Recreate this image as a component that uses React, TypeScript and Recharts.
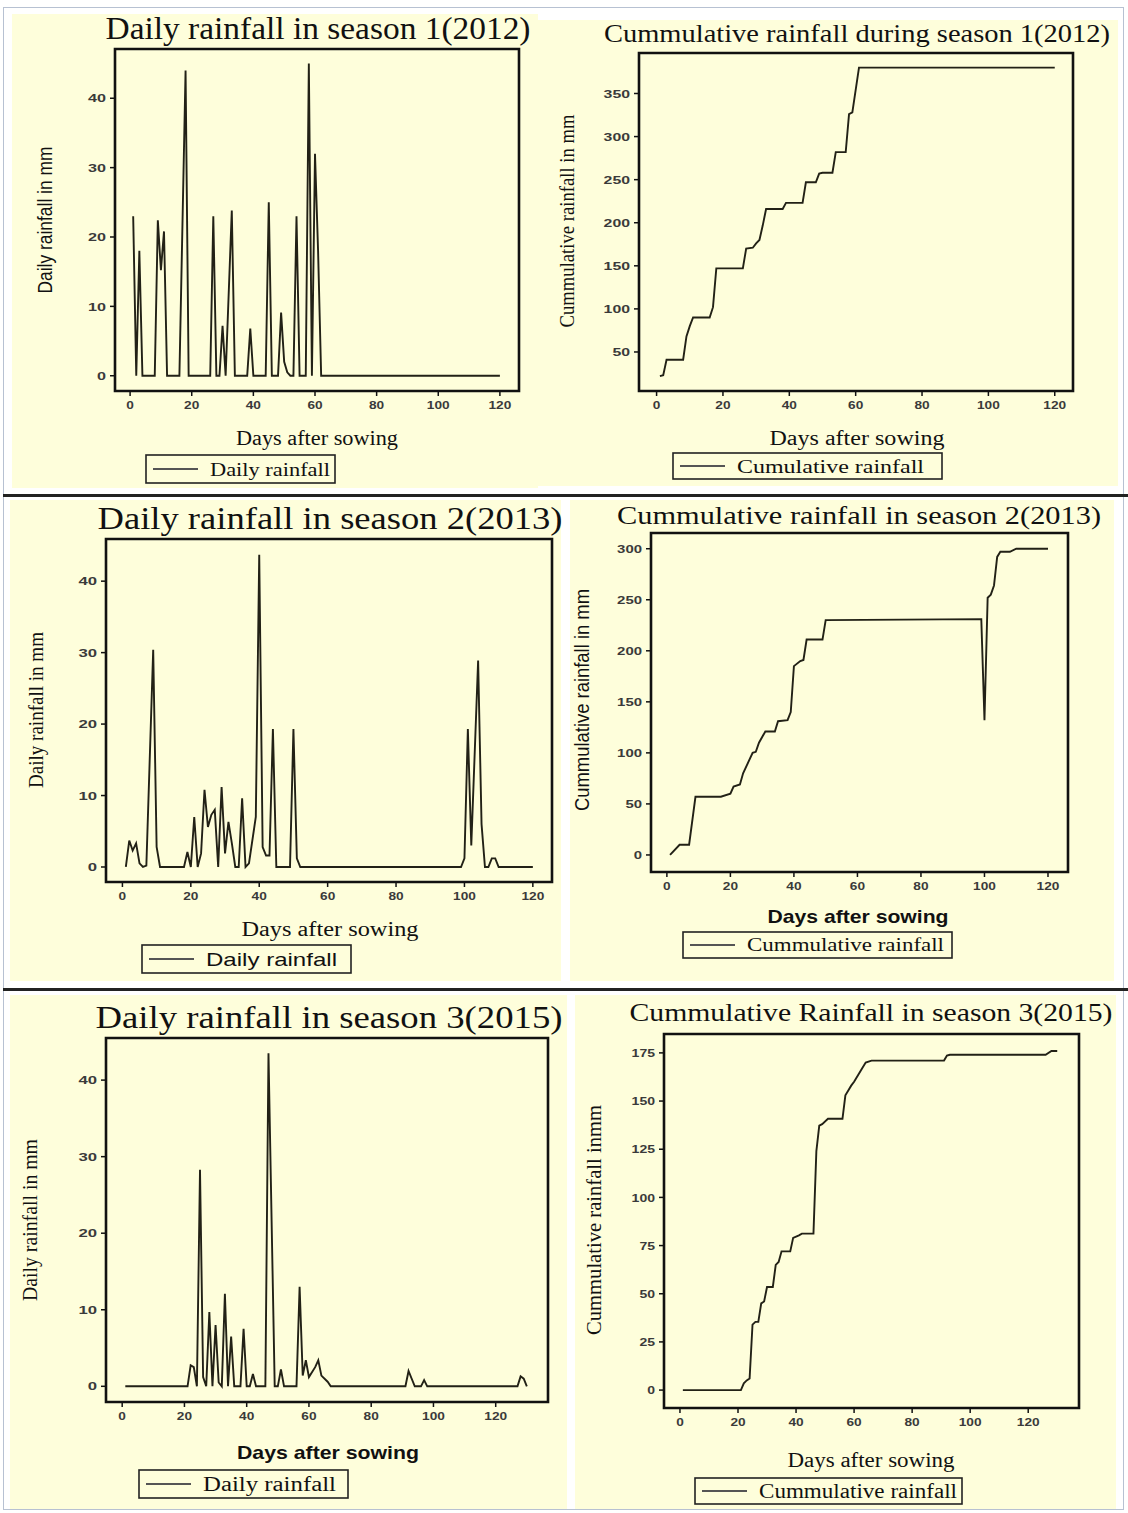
import React from "react";
import { LineChart, Line, XAxis, YAxis, ReferenceArea } from "recharts";

const BG = "#fefedb";
const INK = "#222116";
const SERIF = "'Liberation Serif', 'Times New Roman', serif";
const SANS = "'Liberation Sans', Arial, sans-serif";
const NARROW = "'Liberation Sans Narrow', 'Liberation Sans', Arial, sans-serif";

// season 1 (2012) daily rainfall, mm
const s1Days = [1, 2, 3, 4, 8, 9, 10, 11, 12, 16, 18, 19, 26, 27, 28, 29, 30, 31, 33, 34, 38, 39, 40, 44, 45, 46, 48, 49, 50, 51, 52, 53, 54, 55, 57, 58, 59, 60, 61, 62, 120];
const s1Rain = [23, 0, 18, 0, 0, 22.4, 15.2, 20.8, 0, 0, 44, 0, 0, 23, 0, 0, 7.2, 0, 23.8, 0, 0, 6.8, 0, 0, 25, 0, 0, 9.1, 2, 0.5, 0, 0, 23, 0, 0, 45, 0, 32, 18, 0, 0];

// season 1 cumulative rainfall, mm
const c1Days = [1, 2, 3, 8, 9, 10, 11, 16, 17, 18, 26, 27, 29, 30, 31, 32, 33, 38, 39, 44, 45, 48, 49, 50, 53, 54, 57, 58, 59, 61, 120];
const c1Rain = [22, 23, 41, 41, 68, 80, 90, 90, 102, 147, 147, 170, 171, 176, 180, 197, 216, 216, 223, 223, 247, 247, 257, 258, 258, 282, 282, 326, 328, 380, 380];

// season 2 (2013) daily rainfall, mm
const s2Days = [1, 2, 3, 4, 5, 6, 7, 9, 10, 11, 18, 19, 20, 21, 22, 23, 24, 25, 26, 27, 28, 29, 30, 31, 32, 33, 34, 35, 36, 37, 39, 40, 41, 42, 43, 44, 45, 49, 50, 51, 52, 99, 100, 101, 102, 104, 105, 106, 107, 108, 109, 110, 120];
const s2Rain = [0, 3.7, 2.3, 3.3, 0.5, 0, 0.2, 30.4, 2.8, 0, 0, 2.1, 0, 7, 0, 1.9, 10.8, 5.6, 7.3, 8, 0, 11.2, 1.9, 6.3, 3.3, 0, 0, 9.6, 0, 0.5, 7, 43.7, 2.8, 1.6, 1.6, 19.3, 0, 0, 19.3, 1.2, 0, 0, 1.2, 19.3, 3, 28.9, 6, 0, 0, 1.2, 1.2, 0, 0];

// season 2 cumulative rainfall, mm
const c2Days = [1, 4, 7, 9, 17, 20, 21, 23, 24, 27, 28, 29, 31, 34, 35, 38, 39, 40, 42, 43, 44, 49, 50, 99, 100, 101, 102, 103, 104, 105, 108, 110, 120];
const c2Rain = [0, 10, 10, 57, 57, 60, 67, 69, 80, 100, 101, 110, 121, 121, 131, 132, 140, 185, 190, 191, 211, 211, 230, 231, 132, 252, 255, 264, 292, 297, 297, 300, 300];

// season 3 (2015) daily rainfall, mm
const s3Days = [1, 21, 22, 23, 24, 25, 26, 27, 28, 29, 30, 31, 32, 33, 34, 35, 36, 38, 39, 40, 41, 42, 43, 46, 47, 49, 50, 51, 52, 56, 57, 58, 59, 60, 62, 63, 64, 66, 67, 91, 92, 94, 96, 97, 98, 127, 128, 129, 130];
const s3Rain = [0, 0, 2.75, 2.5, 0, 28.3, 1.2, 0, 9.7, 0, 8, 0.5, 0, 12.1, 0, 6.5, 0, 0, 7.5, 0, 0, 1.6, 0, 0, 43.5, 0, 0, 2.2, 0, 0, 13, 1.4, 3.4, 1.2, 2.5, 3.4, 1.4, 0.6, 0, 0, 2, 0, 0, 0.8, 0, 0, 1.3, 1, 0];

// season 3 cumulative rainfall, mm
const c3Days = [1, 21, 22, 23, 24, 25, 26, 27, 28, 29, 30, 32, 33, 34, 35, 38, 39, 41, 42, 46, 47, 48, 49, 51, 56, 57, 58, 59, 60, 63, 64, 66, 91, 92, 93, 126, 128, 130];
const c3Rain = [0, 0, 3.5, 5, 6, 34, 35.4, 35.4, 45, 46, 53.5, 53.5, 65, 66.5, 72, 72, 79, 80.3, 81.2, 81.2, 124, 137.3, 138, 140.8, 140.8, 153, 155.5, 158, 160, 167.6, 170, 171, 171, 173.6, 174, 174, 176, 176];

const dayTicks = [0, 20, 40, 60, 80, 100, 120];
const dailyTicks = [0, 10, 20, 30, 40];
const cum1Ticks = [50, 100, 150, 200, 250, 300, 350];
const cum2Ticks = [0, 50, 100, 150, 200, 250, 300];
const cum3Ticks = [0, 25, 50, 75, 100, 125, 150, 175];

const rows = (days: number[], vals: number[]) => days.map((d, i) => ({ day: d, value: vals[i] }));

type Box = { l: number; t: number; r: number; b: number };

function Tick(props: any) {
  const { x, y, payload, textAnchor, charW, dy } = props;
  const s = String(payload.value);
  return (
    <text
      x={x}
      y={y}
      dy={dy}
      textAnchor={textAnchor}
      fontSize={11.5}
      fontWeight="bold"
      fill="#3a3a3a"
      fontFamily={SANS}
      textLength={s.length * charW}
      lengthAdjust="spacingAndGlyphs"
    >
      {s}
    </text>
  );
}

function Plot({ box, data, xDomain, yDomain, yTicks, yCharW = 8.5 }: {
  box: Box; data: any[]; xDomain: [number, number]; yDomain: [number, number]; yTicks: number[]; yCharW?: number;
}) {
  const padL = 50, padT = 10, padR = 10, xH = 34;
  const w = box.r - box.l + padL + padR;
  const h = box.b - box.t + padT + xH;
  return (
    <div style={{ position: "absolute", left: box.l - padL, top: box.t - padT }}>
      <LineChart width={w} height={h} data={data} margin={{ top: padT, right: padR, left: 0, bottom: 0 }}>
        <XAxis
          type="number"
          dataKey="day"
          domain={xDomain}
          ticks={dayTicks}
          interval={0}
          allowDataOverflow
          axisLine={false}
          height={xH}
          tickSize={5}
          tickMargin={5}
          tickLine={{ stroke: "#111", strokeWidth: 1.5 }}
          tick={(p: any) => <Tick {...p} charW={7.6} dy="0.72em" />}
        />
        <YAxis
          type="number"
          domain={yDomain}
          ticks={yTicks}
          interval={0}
          allowDataOverflow
          axisLine={false}
          width={padL}
          tickSize={5}
          tickMargin={4}
          tickLine={{ stroke: "#111", strokeWidth: 1.5 }}
          tick={(p: any) => <Tick {...p} charW={yCharW} dy="0.36em" />}
        />
        <ReferenceArea
          x1={xDomain[0]}
          x2={xDomain[1]}
          y1={yDomain[0]}
          y2={yDomain[1]}
          fill="none"
          stroke="#111"
          strokeWidth={2.6}
          ifOverflow="visible"
        />
        <Line type="linear" dataKey="value" stroke={INK} strokeWidth={1.9} dot={false} isAnimationActive={false} />
      </LineChart>
    </div>
  );
}

function T({ x, y, w, size, family = SERIF, weight = "normal", rotate = false, anchor = "middle", children }: any) {
  return (
    <text
      x={x}
      y={y}
      fontSize={size}
      fontFamily={family}
      fontWeight={weight}
      fill="#111"
      textAnchor={anchor}
      dominantBaseline="central"
      textLength={w}
      lengthAdjust="spacingAndGlyphs"
      transform={rotate ? `rotate(-90 ${x} ${y})` : undefined}
    >
      {children}
    </text>
  );
}

function LegendBox({ x, y, w, h, textW, size, family = SERIF, label }: any) {
  const cy = y + h / 2;
  return (
    <g>
      <rect x={x} y={y} width={w} height={h} fill="none" stroke="#222" strokeWidth={1.6} />
      <line x1={x + 7} x2={x + 52} y1={cy} y2={cy} stroke="#555" strokeWidth={1.8} />
      <T x={x + 64} y={cy} w={textW} size={size} family={family} anchor="start">{label}</T>
    </g>
  );
}

const panels = [
  { l: 12, t: 14, w: 526, h: 474 },
  { l: 538, t: 20, w: 580, h: 466 },
  { l: 10, t: 500, w: 551, h: 481 },
  { l: 570, t: 500, w: 544, h: 481 },
  { l: 10, t: 995, w: 557, h: 514 },
  { l: 575, t: 995, w: 541, h: 514 },
];

export default function App() {
  return (
    <div style={{ position: "absolute", left: 0, top: 0, width: 1128, height: 1513, background: "#fff", overflow: "hidden" }}>
      <div style={{ position: "absolute", left: 3, top: 7, width: 1121, height: 1503, border: "1px solid #b7c1d2", boxSizing: "border-box" }} />
      {panels.map((p, i) => (
        <div key={i} style={{ position: "absolute", left: p.l, top: p.t, width: p.w, height: p.h, background: BG }} />
      ))}
      <div style={{ position: "absolute", left: 3, top: 494, width: 1125, height: 3, background: "#222" }} />
      <div style={{ position: "absolute", left: 3, top: 988, width: 1125, height: 3, background: "#222" }} />

      <Plot box={{ l: 115, t: 49, r: 519, b: 391 }} data={rows(s1Days, s1Rain)} xDomain={[-4.9, 126.2]} yDomain={[-2.2, 47.1]} yTicks={dailyTicks} yCharW={9} />
      <Plot box={{ l: 639, t: 53, r: 1073, b: 391 }} data={rows(c1Days, c1Rain)} xDomain={[-5.3, 125.5]} yDomain={[4.7, 397]} yTicks={cum1Ticks} yCharW={8.8} />
      <Plot box={{ l: 106, t: 539, r: 552, b: 882 }} data={rows(s2Days, s2Rain)} xDomain={[-4.8, 125.6]} yDomain={[-2.1, 45.9]} yTicks={dailyTicks} yCharW={9.3} />
      <Plot box={{ l: 651, t: 533, r: 1068, b: 872 }} data={rows(c2Days, c2Rain)} xDomain={[-5, 126.3]} yDomain={[-16.7, 315.4]} yTicks={cum2Ticks} yCharW={8.3} />
      <Plot box={{ l: 106, t: 1038, r: 548, b: 1402 }} data={rows(s3Days, s3Rain)} xDomain={[-5.2, 136.8]} yDomain={[-2.05, 45.5]} yTicks={dailyTicks} yCharW={9.3} />
      <Plot box={{ l: 664, t: 1034, r: 1079, b: 1408 }} data={rows(c3Days, c3Rain)} xDomain={[-5.5, 137.5]} yDomain={[-9.3, 184.8]} yTicks={cum3Ticks} yCharW={7.8} />

      <svg width={1128} height={1513} style={{ position: "absolute", left: 0, top: 0, pointerEvents: "none" }}>
        {/* season 1 */}
        <T x={318} y={28} w={425} size={31}>Daily rainfall in season 1(2012)</T>
        <T x={45} y={220} w={147} size={20} family={NARROW} rotate>Daily rainfall in mm</T>
        <T x={317} y={438} w={162} size={20}>Days after sowing</T>
        <LegendBox x={146} y={455} w={189} h={28} textW={120} size={19} label="Daily rainfall" />

        <T x={857} y={33} w={506} size={25}>Cummulative rainfall during season 1(2012)</T>
        <T x={567} y={221} w={213} size={21} rotate>Cummulative rainfall in mm</T>
        <T x={857} y={438} w={175} size={20}>Days after sowing</T>
        <LegendBox x={673} y={453} w={269} h={26} textW={187} size={19} label="Cumulative rainfall" />

        {/* season 2 */}
        <T x={330} y={518} w={465} size={31}>Daily rainfall in season 2(2013)</T>
        <T x={36} y={710} w={156} size={21} rotate>Daily rainfall in mm</T>
        <T x={330} y={929} w={177} size={20}>Days after sowing</T>
        <LegendBox x={142} y={945} w={209} h={28} textW={131} size={19} family={SANS} label="Daily rainfall" />

        <T x={859} y={515} w={484} size={26}>Cummulative rainfall in season 2(2013)</T>
        <T x={582} y={700} w={222} size={20} family={SANS} rotate>Cummulative rainfall in mm</T>
        <T x={858} y={916} w={181} size={19} family={SANS} weight="bold">Days after sowing</T>
        <LegendBox x={683} y={932} w={269} h={26} textW={197} size={18} label="Cummulative rainfall" />

        {/* season 3 */}
        <T x={329} y={1017} w={467} size={31}>Daily rainfall in season 3(2015)</T>
        <T x={30} y={1220} w={162} size={21} rotate>Daily rainfall in mm</T>
        <T x={328} y={1452} w={182} size={19} family={SANS} weight="bold">Days after sowing</T>
        <LegendBox x={139} y={1470} w={209} h={28} textW={133} size={20} label="Daily rainfall" />

        <T x={871} y={1012} w={483} size={26}>Cummulative Rainfall in season 3(2015)</T>
        <T x={594} y={1220} w={230} size={21} rotate>Cummulative rainfall inmm</T>
        <T x={871} y={1460} w={167} size={20}>Days after sowing</T>
        <LegendBox x={695} y={1478} w={267} h={26} textW={198} size={20} label="Cummulative rainfall" />
      </svg>
    </div>
  );
}
